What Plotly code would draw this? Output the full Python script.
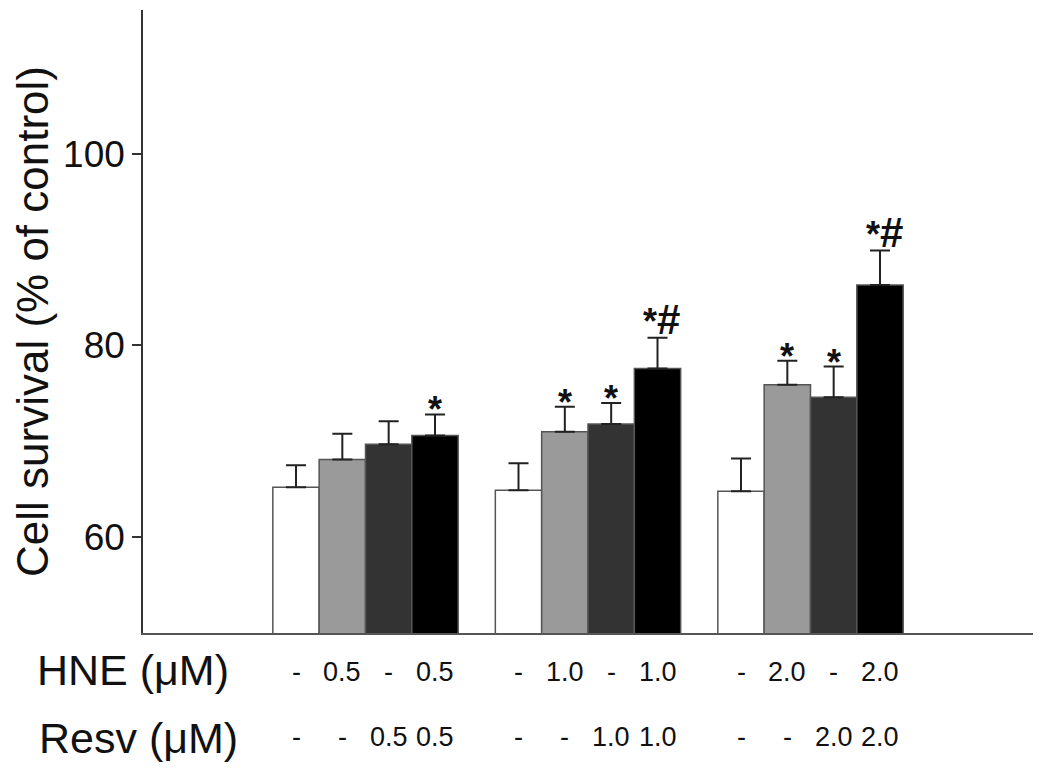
import plotly.graph_objects as go

groups = [0, 1, 2]
series_names = ["Control", "HNE", "Resv", "HNE + Resv"]
series_colors = ["#ffffff", "#9a9a9a", "#333333", "#000000"]
values = [
    [65.2, 64.9, 64.8],
    [68.1, 71.0, 75.9],
    [69.7, 71.8, 74.6],
    [70.6, 77.6, 86.3],
]
errors = [
    [2.3, 2.8, 3.4],
    [2.7, 2.6, 2.5],
    [2.4, 2.2, 3.2],
    [2.2, 3.2, 3.6],
]
marks = [
    ["", "", ""],
    ["", "*", "*"],
    ["", "*", "*"],
    ["*", "*#", "*#"],
]
hne_labels = [["-", "0.5", "-", "0.5"], ["-", "1.0", "-", "1.0"], ["-", "2.0", "-", "2.0"]]
resv_labels = [["-", "-", "0.5", "0.5"], ["-", "-", "1.0", "1.0"], ["-", "-", "2.0", "2.0"]]
y_ticks = [60, 80, 100]

FONT = "Liberation Sans, Arial, sans-serif"
bargap = 0.167
n = len(series_names)
bar_w = (1 - bargap) / n
offsets = [(-(1 - bargap) / 2 + bar_w * (i + 0.5)) for i in range(n)]

fig = go.Figure()
for i in range(n):
    fig.add_trace(go.Bar(
        x=groups, y=values[i], name=series_names[i],
        marker=dict(color=series_colors[i], line=dict(color="#555555", width=1.5)),
        error_y=dict(type="data", symmetric=False, array=errors[i],
                     arrayminus=[0] * len(groups), color="#222222",
                     thickness=2, width=10),
        showlegend=False,
    ))

ann = []
for i in range(n):
    for g in groups:
        m = marks[i][g]
        if not m:
            continue
        top = values[i][g] + errors[i][g]
        if m == "*":
            txt = "<b>*</b>"
            ys = -18
        else:
            txt = "<b>*</b><b><span style='font-size:42px'>#</span></b>"
            ys = -7
        ann.append(dict(x=g + offsets[i] + (0.02 if m != "*" else 0), y=top,
                        xref="x", yref="y", text=txt,
                        showarrow=False, yanchor="bottom", xanchor="center",
                        font=dict(family=FONT, size=36, color="#111111"),
                        yshift=ys))

for g in groups:
    for i in range(n):
        ann.append(dict(x=g + offsets[i], y=-0.0626, xref="x", yref="paper",
                        text=hne_labels[g][i], showarrow=False,
                        xanchor="center", yanchor="middle",
                        font=dict(family=FONT, size=27, color="#111111")))
        ann.append(dict(x=g + offsets[i], y=-0.1669, xref="x", yref="paper",
                        text=resv_labels[g][i], showarrow=False,
                        xanchor="center", yanchor="middle",
                        font=dict(family=FONT, size=27, color="#111111")))

ann.append(dict(x=-0.1213, y=-0.0594, xref="paper", yref="paper", text="HNE (μM)",
                showarrow=False, xanchor="left", yanchor="middle",
                font=dict(family=FONT, size=43, color="#111111")))
ann.append(dict(x=-0.119, y=-0.1685, xref="paper", yref="paper", text="Resv (μM)",
                showarrow=False, xanchor="left", yanchor="middle",
                font=dict(family=FONT, size=43, color="#111111")))

fig.update_layout(
    width=1050, height=782,
    margin=dict(l=135, r=25, t=2, b=157),
    paper_bgcolor="white", plot_bgcolor="white",
    barmode="group", bargap=bargap, bargroupgap=0,
    annotations=ann,
    font=dict(family=FONT, color="#111111"),
    xaxis=dict(range=[-1, 3], showticklabels=False, ticks="", showgrid=False,
               zeroline=False, showline=True, linecolor="#555555", linewidth=2),
    yaxis=dict(range=[50, 115], tickvals=y_ticks, ticks="outside", ticklen=9,
               tickwidth=1.5, tickcolor="#333333", showgrid=False, zeroline=False,
               showline=True, linecolor="#333333", linewidth=1.5,
               tickfont=dict(family=FONT, size=37, color="#111111"),
               title=dict(text="Cell survival (% of control)", standoff=6,
                          font=dict(family=FONT, size=44, color="#111111"))),
)

fig.write_html("out.html")
